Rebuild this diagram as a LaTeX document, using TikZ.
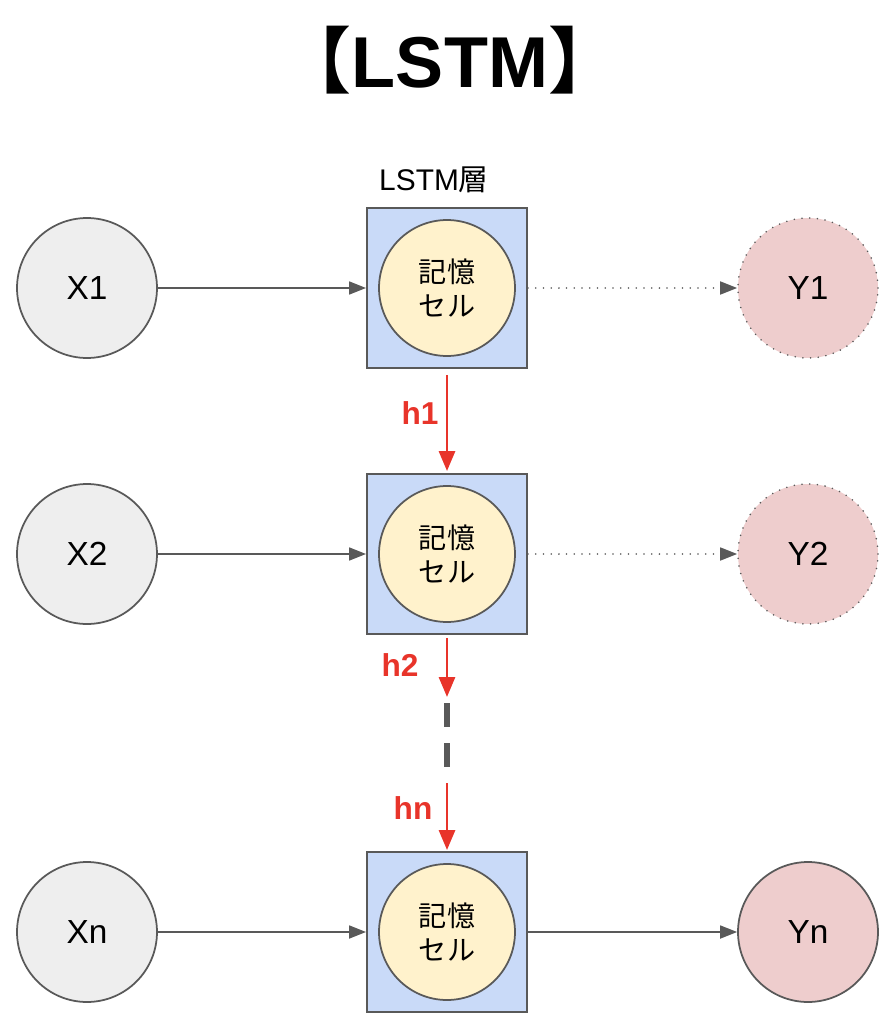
\documentclass[tikz,border=0pt]{standalone}
\usepackage{fontspec}
\setmainfont{Liberation Sans}
\newfontfamily\cjk{Noto Sans CJK JP}[BoldFont={Noto Sans CJK JP Bold}]
\usepackage{xcolor}
\usetikzlibrary{arrows.meta}

\definecolor{edgegray}{HTML}{595959}
\definecolor{inputfill}{HTML}{EEEEEE}
\definecolor{layerfill}{HTML}{C9DAF8}
\definecolor{cellfill}{HTML}{FFF2CC}
\definecolor{outputfill}{HTML}{EECDCD}
\definecolor{hred}{HTML}{E8342A}

\tikzset{
    inputnode/.style={circle, draw=edgegray, line width=1pt, fill=inputfill,
        minimum size=2.8cm, inner sep=0pt, font=\fontsize{19}{19}\selectfont},
    outputnode/.style={inputnode, fill=outputfill},
    layerbox/.style={rectangle, draw=edgegray, line width=1.1pt, fill=layerfill,
        minimum size=3.2cm, inner sep=0pt},
    cellnode/.style={circle, draw=edgegray, line width=1pt, fill=cellfill,
        minimum size=2.72cm, inner sep=0pt, align=center,
        font=\cjk\fontsize{16}{19}\selectfont},
    flow/.style={draw=edgegray, line width=1pt,
        -{Triangle[length=0.34cm, width=0.26cm]}},
    dotflow/.style={flow, line cap=round, dash pattern=on 0pt off 4.4pt},
    harrow/.style={draw=hred, line width=1.7pt,
        -{Triangle[length=0.4cm, width=0.32cm]}},
    hlabel/.style={text=hred, font=\bfseries\fontsize{18}{18}\selectfont}
}

\begin{document}
\begin{tikzpicture}[x=0.02cm, y=-0.02cm]
    \useasboundingbox (0,0) rectangle (890,1024);

    % Title
    \node (title) at (450,60) {\fontsize{41}{41}\selectfont\bfseries{\cjk 【}LSTM{\cjk 】}};

    % Layer label
    \node (layerlabel) at (434,180) {\fontsize{17}{17}\selectfont LSTM{\cjk 層}};

    % Inputs
    \node[inputnode] (x1) at (87,288) {X1};
    \node[inputnode] (x2) at (87,554) {X2};
    \node[inputnode] (xn) at (87,932) {Xn};

    % LSTM layers with memory cells
    \node[layerbox] (box1) at (447,288) {};
    \node[cellnode] (cell1) at (box1) {記憶\\セル};
    \node[layerbox] (box2) at (447,554) {};
    \node[cellnode] (cell2) at (box2) {記憶\\セル};
    \node[layerbox] (box3) at (447,932) {};
    \node[cellnode] (cell3) at (box3) {記憶\\セル};

    % Outputs
    \node[outputnode, dash pattern=on 0pt off 4.4pt, line cap=round] (y1) at (808,288) {Y1};
    \node[outputnode, dash pattern=on 0pt off 4.4pt, line cap=round] (y2) at (808,554) {Y2};
    \node[outputnode] (yn) at (808,932) {Yn};

    % Input and output connectors
    \draw[flow] (x1) -- (box1);
    \draw[flow] (x2) -- (box2);
    \draw[flow] (xn) -- (box3);
    \draw[dotflow] (box1) -- (y1);
    \draw[dotflow] (box2) -- (y2);
    \draw[flow] (box3) -- (yn);

    % Hidden states
    \coordinate (h2end) at (447,697);
    \coordinate (gapA) at (447,703);
    \coordinate (gapB) at (447,767);
    \coordinate (hnstart) at (447,783);

    \draw[harrow, shorten <=0.12cm, shorten >=0.04cm] (box1) -- (box2);
    \draw[harrow, shorten <=0.06cm] (box2) -- (h2end);
    \draw[edgegray, line width=3.4pt, dash pattern=on 0.48cm off 0.32cm] (gapA) -- (gapB);
    \draw[harrow, shorten >=0.02cm] (hnstart) -- (box3);

    \node[hlabel] (h1) at (420,413) {h1};
    \node[hlabel] (h2) at (400,665) {h2};
    \node[hlabel] (hn) at (413,808) {hn};
\end{tikzpicture}
\end{document}
